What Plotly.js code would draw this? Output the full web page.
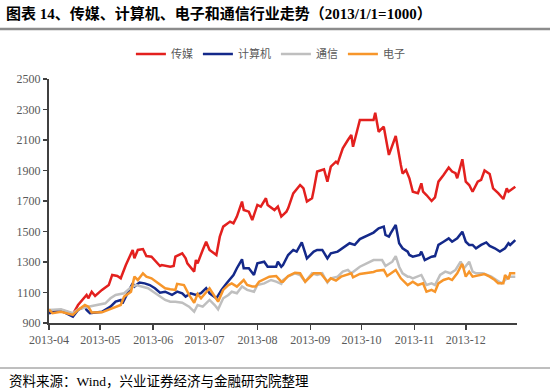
<!DOCTYPE html>
<html>
<head>
<meta charset="utf-8">
<script src="https://cdn.plot.ly/plotly-3.0.1.min.js"></script>
<style>
html,body{margin:0;padding:0;background:#fff;}
#chart{width:550px;height:390px;}
</style>
</head>
<body>
<div id="chart"></div>
<script>
const seriesNames = ["传媒", "计算机", "通信", "电子"];
const seriesColors = ["#E3201E", "#14298A", "#BFBFBF", "#F7962B"];

const mediaDates = ["2013-04-01","2013-04-08","2013-04-11","2013-04-15","2013-04-18","2013-04-22","2013-04-23","2013-04-24","2013-04-26","2013-04-28","2013-05-02","2013-05-06","2013-05-08","2013-05-11","2013-05-13","2013-05-16","2013-05-20","2013-05-21","2013-05-23","2013-05-26","2013-05-28","2013-05-31","2013-06-04","2013-06-05","2013-06-06","2013-06-11","2013-06-13","2013-06-14","2013-06-18","2013-06-20","2013-06-21","2013-06-25","2013-06-26","2013-06-27","2013-06-30","2013-07-02","2013-07-04","2013-07-08","2013-07-10","2013-07-12","2013-07-16","2013-07-18","2013-07-20","2013-07-21","2013-07-23","2013-07-24","2013-07-27","2013-07-29","2013-08-01","2013-08-03","2013-08-06","2013-08-07","2013-08-11","2013-08-13","2013-08-15","2013-08-18","2013-08-19","2013-08-22","2013-08-26","2013-08-27","2013-08-28","2013-08-30","2013-09-02","2013-09-03","2013-09-05","2013-09-09","2013-09-11","2013-09-13","2013-09-16","2013-09-17","2013-09-20","2013-09-23","2013-09-25","2013-09-26","2013-09-28","2013-09-30","2013-10-08","2013-10-09","2013-10-11","2013-10-14","2013-10-17","2013-10-21","2013-10-24","2013-10-25","2013-10-27","2013-10-29","2013-10-31","2013-11-03","2013-11-05","2013-11-06","2013-11-08","2013-11-11","2013-11-13","2013-11-14","2013-11-15","2013-11-18","2013-11-21","2013-11-23","2013-11-25","2013-11-26","2013-11-28","2013-11-29","2013-12-01","2013-12-03","2013-12-05","2013-12-08","2013-12-10","2013-12-12","2013-12-15","2013-12-17","2013-12-20","2013-12-23","2013-12-25","2013-12-26","2013-12-30"];
const mediaValues = [974,985,975,959,1018,1073,1084,1062,1105,1077,1117,1149,1215,1208,1193,1280,1379,1324,1379,1385,1339,1335,1291,1274,1280,1269,1274,1335,1357,1324,1291,1237,1313,1291,1379,1433,1379,1346,1466,1532,1565,1554,1598,1630,1696,1641,1630,1575,1674,1663,1718,1674,1641,1663,1598,1630,1652,1750,1805,1794,1783,1696,1718,1772,1893,1908,1827,1925,1958,1947,2046,2100,2133,2056,2154,2231,2231,2279,2154,2187,2002,2126,1936,1880,1903,1849,1761,1751,1816,1761,1739,1700,1724,1783,1827,1871,1920,1893,1882,1849,1947,1974,1827,1805,1761,1827,1838,1900,1877,1783,1751,1713,1783,1761,1794];

const computerDates = ["2013-04-01","2013-04-08","2013-04-15","2013-04-18","2013-04-22","2013-04-23","2013-04-25","2013-05-02","2013-05-07","2013-05-10","2013-05-13","2013-05-14","2013-05-17","2013-05-20","2013-05-21","2013-05-24","2013-05-27","2013-05-30","2013-06-02","2013-06-05","2013-06-08","2013-06-12","2013-06-15","2013-06-18","2013-06-20","2013-06-23","2013-06-26","2013-06-29","2013-07-02","2013-07-04","2013-07-08","2013-07-11","2013-07-14","2013-07-17","2013-07-18","2013-07-20","2013-07-23","2013-07-24","2013-07-27","2013-07-30","2013-08-01","2013-08-05","2013-08-07","2013-08-12","2013-08-13","2013-08-15","2013-08-16","2013-08-19","2013-08-22","2013-08-24","2013-08-27","2013-08-30","2013-09-03","2013-09-05","2013-09-08","2013-09-11","2013-09-13","2013-09-17","2013-09-20","2013-09-24","2013-09-27","2013-09-30","2013-10-08","2013-10-11","2013-10-14","2013-10-15","2013-10-17","2013-10-18","2013-10-21","2013-10-23","2013-10-25","2013-10-28","2013-10-29","2013-10-31","2013-11-04","2013-11-05","2013-11-07","2013-11-11","2013-11-13","2013-11-15","2013-11-18","2013-11-21","2013-11-23","2013-11-26","2013-11-29","2013-12-01","2013-12-03","2013-12-05","2013-12-07","2013-12-10","2013-12-13","2013-12-15","2013-12-18","2013-12-21","2013-12-24","2013-12-26","2013-12-27","2013-12-30"];
const computerValues = [964,981,942,986,1007,986,964,974,1007,1040,1051,1029,1095,1160,1139,1165,1160,1149,1128,1099,1105,1084,1106,1095,1073,1095,1084,1095,1128,1095,1062,1117,1160,1204,1215,1259,1318,1259,1259,1215,1291,1302,1269,1269,1302,1269,1280,1346,1379,1368,1428,1324,1368,1379,1379,1324,1357,1368,1390,1423,1412,1450,1493,1521,1532,1477,1466,1488,1543,1423,1390,1368,1346,1335,1346,1368,1313,1335,1339,1412,1433,1455,1433,1455,1499,1433,1412,1412,1390,1412,1428,1405,1390,1368,1390,1423,1412,1444];

const telecomDates = ["2013-04-01","2013-04-08","2013-04-15","2013-04-18","2013-04-24","2013-04-30","2013-05-04","2013-05-07","2013-05-10","2013-05-15","2013-05-19","2013-05-22","2013-05-26","2013-05-29","2013-06-01","2013-06-05","2013-06-08","2013-06-11","2013-06-14","2013-06-18","2013-06-22","2013-06-25","2013-06-27","2013-06-30","2013-07-04","2013-07-07","2013-07-09","2013-07-12","2013-07-15","2013-07-17","2013-07-20","2013-07-23","2013-07-26","2013-07-30","2013-08-01","2013-08-05","2013-08-09","2013-08-12","2013-08-15","2013-08-16","2013-08-19","2013-08-23","2013-08-26","2013-08-29","2013-09-02","2013-09-05","2013-09-08","2013-09-11","2013-09-13","2013-09-17","2013-09-20","2013-09-23","2013-09-25","2013-09-30","2013-10-08","2013-10-13","2013-10-15","2013-10-19","2013-10-21","2013-10-23","2013-10-25","2013-10-28","2013-10-29","2013-10-31","2013-11-03","2013-11-05","2013-11-08","2013-11-11","2013-11-13","2013-11-16","2013-11-19","2013-11-22","2013-11-25","2013-11-28","2013-11-30","2013-12-03","2013-12-05","2013-12-07","2013-12-11","2013-12-16","2013-12-19","2013-12-22","2013-12-24","2013-12-26","2013-12-30"];
const telecomValues = [986,990,964,990,1007,1018,1029,1062,1084,1095,1134,1149,1139,1128,1105,1073,1051,1040,1040,1033,1007,974,1018,1007,1051,1018,990,1062,1084,1105,1095,1139,1117,1105,1149,1160,1182,1171,1157,1182,1205,1226,1215,1171,1226,1215,1226,1165,1193,1204,1237,1248,1226,1269,1313,1313,1274,1302,1339,1269,1226,1204,1204,1193,1204,1215,1149,1160,1149,1215,1237,1226,1248,1302,1259,1302,1237,1226,1226,1204,1182,1160,1182,1204,1204];

const electronicsDates = ["2013-04-01","2013-04-03","2013-04-08","2013-04-15","2013-04-18","2013-04-22","2013-04-24","2013-04-26","2013-05-02","2013-05-06","2013-05-10","2013-05-13","2013-05-15","2013-05-19","2013-05-21","2013-05-23","2013-05-26","2013-05-28","2013-05-31","2013-06-05","2013-06-08","2013-06-11","2013-06-14","2013-06-15","2013-06-19","2013-06-22","2013-06-25","2013-06-27","2013-06-29","2013-07-04","2013-07-07","2013-07-09","2013-07-12","2013-07-15","2013-07-17","2013-07-20","2013-07-24","2013-07-26","2013-07-29","2013-07-31","2013-08-02","2013-08-05","2013-08-08","2013-08-12","2013-08-15","2013-08-16","2013-08-19","2013-08-23","2013-08-26","2013-08-29","2013-09-03","2013-09-07","2013-09-11","2013-09-13","2013-09-16","2013-09-19","2013-09-25","2013-09-26","2013-09-30","2013-10-08","2013-10-10","2013-10-14","2013-10-16","2013-10-21","2013-10-24","2013-10-28","2013-10-31","2013-11-03","2013-11-06","2013-11-08","2013-11-11","2013-11-13","2013-11-15","2013-11-18","2013-11-21","2013-11-23","2013-11-26","2013-11-28","2013-11-29","2013-12-01","2013-12-03","2013-12-05","2013-12-09","2013-12-12","2013-12-15","2013-12-18","2013-12-20","2013-12-23","2013-12-24","2013-12-26","2013-12-27","2013-12-30"];
const electronicsValues = [990,964,974,953,986,1018,1007,969,970,986,1007,1018,1073,1105,1204,1182,1226,1204,1193,1149,1128,1121,1117,1157,1149,1084,1033,1090,1062,1128,1073,1040,1117,1149,1160,1139,1182,1149,1139,1139,1171,1187,1204,1208,1171,1171,1208,1230,1226,1171,1226,1226,1171,1193,1178,1204,1226,1200,1222,1235,1243,1248,1208,1248,1193,1149,1171,1149,1160,1105,1117,1105,1160,1182,1193,1182,1226,1269,1287,1204,1237,1204,1215,1221,1204,1182,1160,1160,1215,1187,1226,1226];

const yTicks = [900, 1100, 1300, 1500, 1700, 1900, 2100, 2300, 2500];

const titleText = "图表 14、传媒、计算机、电子和通信行业走势（2013/1/1=1000）";
const sourceText = "资料来源：Wind，兴业证券经济与金融研究院整理";

const xs = [mediaDates, computerDates, telecomDates, electronicsDates];
const ys = [mediaValues, computerValues, telecomValues, electronicsValues];

const traces = seriesNames.map((n, i) => ({
  type: "scatter",
  mode: "lines",
  name: n,
  x: xs[i],
  y: ys[i],
  line: {color: seriesColors[i], width: 2.5},
  hoverinfo: "skip"
}));

const serif = "'Liberation Serif', 'Noto Sans CJK SC', serif";
const cjk = "'Liberation Serif', 'Noto Sans CJK SC', sans-serif";

const layout = {
  width: 550,
  height: 390,
  margin: {l: 49, r: 33, t: 79, b: 67},
  paper_bgcolor: "#ffffff",
  plot_bgcolor: "#ffffff",
  showlegend: true,
  title: {
    text: "<b>" + titleText + "</b>",
    x: 6 / 550, xanchor: "left", xref: "container",
    y: 1 - 14 / 390, yanchor: "middle", yref: "container",
    font: {family: cjk, size: 15, color: "#000000"}
  },
  legend: {
    orientation: "h",
    x: 0.175, xanchor: "left",
    y: 1.102, yanchor: "middle",
    font: {family: cjk, size: 11, color: "#595959"},
    bgcolor: "rgba(0,0,0,0)",
    tracegroupgap: 0
  },
  xaxis: {
    type: "date",
    range: ["2013-04-01", "2013-12-31"],
    tick0: "2013-04-01",
    dtick: "M1",
    tickformat: "%Y-%m",
    ticks: "outside",
    ticklen: 5,
    tickwidth: 1.5,
    tickcolor: "#404040",
    showline: true,
    linecolor: "#404040",
    linewidth: 1.5,
    showgrid: false,
    zeroline: false,
    tickfont: {family: serif, size: 12, color: "#595959"}
  },
  yaxis: {
    range: [900, 2500],
    tickvals: yTicks,
    ticks: "outside",
    ticklen: 4,
    tickwidth: 1.5,
    tickcolor: "#404040",
    showline: true,
    linecolor: "#404040",
    linewidth: 2,
    showgrid: false,
    zeroline: false,
    tickfont: {family: serif, size: 12, color: "#595959"}
  },
  shapes: [
    {type: "line", xref: "paper", yref: "paper",
     x0: -49 / 468, x1: 501 / 468, y0: (323 - 29) / 244, y1: (323 - 29) / 244,
     line: {color: "#8c8c8c", width: 2.5}},
    {type: "line", xref: "paper", yref: "paper",
     x0: -49 / 468, x1: 501 / 468, y0: (323 - 368) / 244, y1: (323 - 368) / 244,
     line: {color: "#7f7f7f", width: 1}}
  ],
  annotations: [
    {text: sourceText, xref: "paper", yref: "paper",
     x: -42 / 468, xanchor: "left", y: (323 - 381) / 244, yanchor: "middle",
     showarrow: false, font: {family: cjk, size: 13.5, color: "#000000"}}
  ]
};

Plotly.newPlot("chart", traces, layout, {displayModeBar: false, staticPlot: true});
</script>
</body>
</html>
